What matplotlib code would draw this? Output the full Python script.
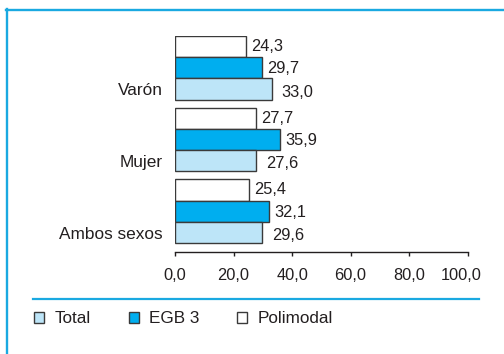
import matplotlib
matplotlib.use("Agg")
import matplotlib.pyplot as plt
import matplotlib.transforms as mtransforms
from matplotlib.lines import Line2D
import numpy as np

plt.rcParams['font.family'] = ['Liberation Sans', 'DejaVu Sans']

# Data
categories = ["Varón", "Mujer", "Ambos sexos"]
series_names = ["Total", "EGB 3", "Polimodal"]
total = [33.0, 27.6, 29.6]
egb3 = [29.7, 35.9, 32.1]
polimodal = [24.3, 27.7, 25.4]
x_ticks = [0, 20, 40, 60, 80, 100]
x_tick_labels = ["0,0", "20,0", "40,0", "60,0", "80,0", "100,0"]

TEXT = "#231f20"
EDGE = "#3a3a3a"
CYAN = "#1aa9e1"
col_total = "#bde5f8"
col_egb = "#00aeef"
col_poli = "#ffffff"

fig = plt.figure(figsize=(5.04, 3.54), dpi=100)
W, H = 504, 354

# axes placed in pixel terms
left_px, right_px = 175, 467.7
top_px, bottom_px = 35.7, 252.3
ax = fig.add_axes([left_px / W, 1 - bottom_px / H,
                   (right_px - left_px) / W, (bottom_px - top_px) / H])

pos = np.arange(len(categories))
bh = 0.297
bars_poli = ax.barh(pos - bh, polimodal, height=bh, color=col_poli,
                    edgecolor=EDGE, linewidth=1.0, label=series_names[2])
bars_egb = ax.barh(pos, egb3, height=bh, color=col_egb,
                   edgecolor=EDGE, linewidth=1.0, label=series_names[1])
bars_tot = ax.barh(pos + bh, total, height=bh, color=col_total,
                   edgecolor=EDGE, linewidth=1.0, label=series_names[0])

ax.set_xlim(0, 100)
ax.set_ylim(2.571, -0.4455)

def fmt(v):
    return f"{v:.1f}".replace(".", ",")

for bars, vals, dx, dy in ((bars_poli, polimodal, 5, 0),
                           (bars_egb, egb3, 5, -1),
                           (bars_tot, total, 10, -3)):
    for b, v in zip(bars, vals):
        ax.annotate(fmt(v), xy=(v, b.get_y() + b.get_height() / 2),
                    xytext=(dx * 0.72, dy * 0.72), textcoords="offset points",
                    ha="left", va="center", fontsize=11.8, color=TEXT)

ax.set_yticks(pos + bh * 1.0, categories)
ax.tick_params(axis="y", left=False, length=0, pad=8.6, labelsize=12.4,
               labelcolor=TEXT)
ax.set_xticks(x_ticks, x_tick_labels)
ax.tick_params(axis="x", direction="out", length=2.7, width=1.0, color=TEXT,
               pad=8.5, labelsize=11.8, labelcolor=TEXT)
# keep the last tick label inside the frame
last = ax.get_xticklabels()[-1]
last.set_transform(last.get_transform() +
                   mtransforms.ScaledTranslation(-7 / 100, 0, fig.dpi_scale_trans))

for s in ("top", "right", "left"):
    ax.spines[s].set_visible(False)
ax.spines["bottom"].set_linewidth(1.0)
ax.spines["bottom"].set_color(TEXT)

# frame lines and separator
fig.add_artist(Line2D([5.5 / W, 1.0], [1 - 9.8 / H, 1 - 9.8 / H],
                      transform=fig.transFigure, color=CYAN, lw=1.7))
fig.add_artist(Line2D([6.5 / W, 6.5 / W], [1 - 9.0 / H, 0.0],
                      transform=fig.transFigure, color=CYAN, lw=1.7))
fig.add_artist(Line2D([32.7 / W, 479 / W], [1 - 299 / H, 1 - 299 / H],
                      transform=fig.transFigure, color=CYAN, lw=1.6))

fs_leg = 12.3
px_per_em = fs_leg * 100 / 72
leg = fig.legend(handles=[bars_tot, bars_egb, bars_poli], labels=series_names,
                 loc="center left", bbox_to_anchor=(34.3 / W, 1 - 318.7 / H),
                 bbox_transform=fig.transFigure, ncol=3, frameon=False,
                 borderpad=0, borderaxespad=0, fontsize=fs_leg,
                 handlelength=10 / px_per_em, handleheight=10 / px_per_em,
                 handletextpad=10.7 / px_per_em, columnspacing=37.5 / px_per_em,
                 labelcolor=TEXT)

fig.savefig("out.png", dpi=100)
